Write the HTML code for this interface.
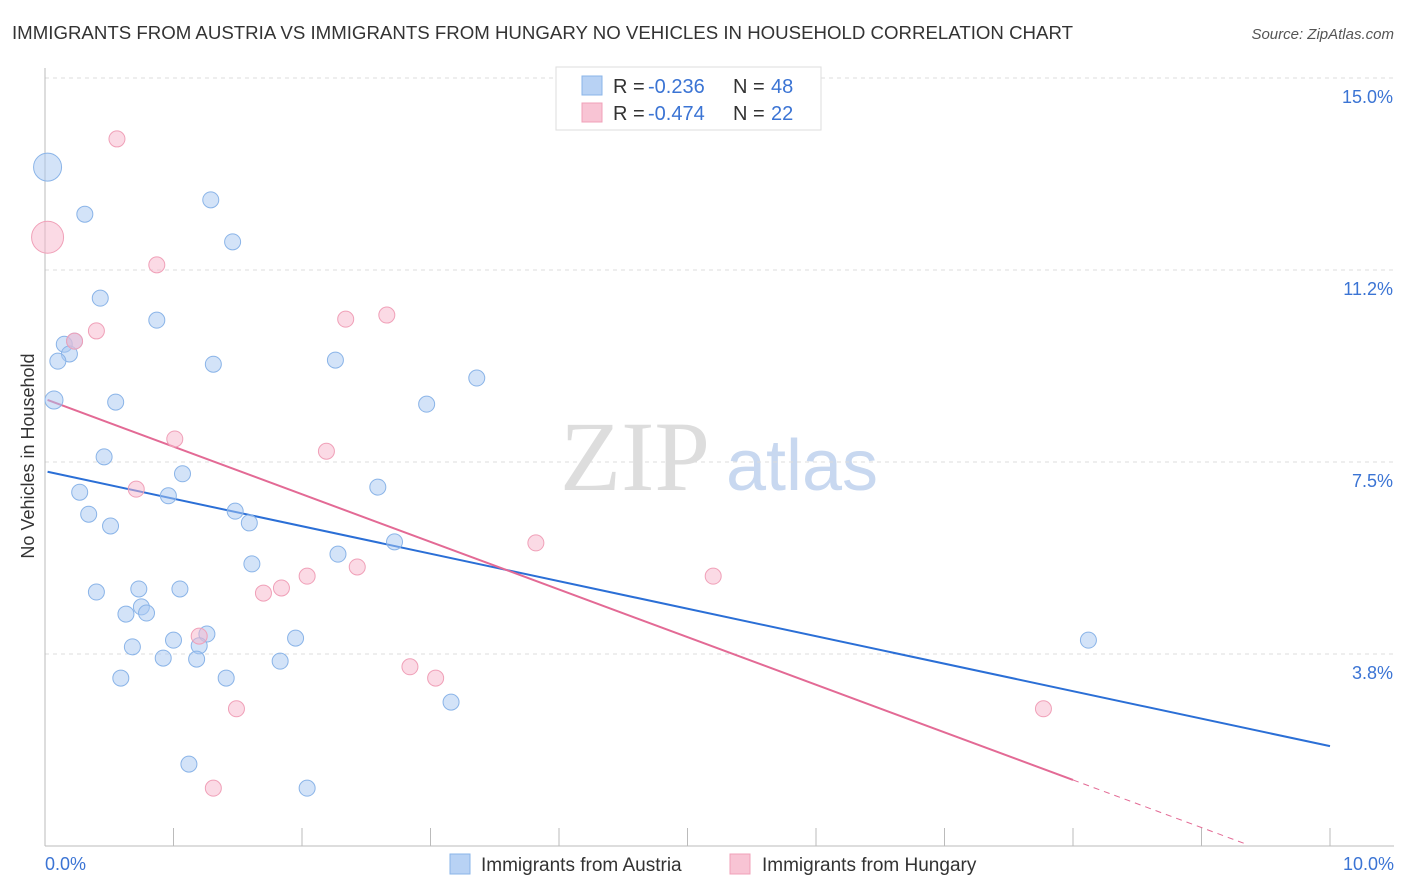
<!DOCTYPE html>
<html><head><meta charset="utf-8"><style>
body{margin:0;background:#fff;font-family:"Liberation Sans",sans-serif;}
svg{display:block}
</style></head><body>
<svg id="chart" width="1406" height="892" xmlns="http://www.w3.org/2000/svg">
<text x="12" y="39" font-size="18" fill="#333" textLength="1061" lengthAdjust="spacingAndGlyphs">IMMIGRANTS FROM AUSTRIA VS IMMIGRANTS FROM HUNGARY NO VEHICLES IN HOUSEHOLD CORRELATION CHART</text>
<text x="1394" y="39" font-size="15" fill="#555" font-style="italic" text-anchor="end">Source: ZipAtlas.com</text>
<text x="34" y="456" font-size="18" fill="#333" text-anchor="middle" transform="rotate(-90 34 456)">No Vehicles in Household</text>
<g><text x="635" y="490" font-size="100" fill="#ddd" font-family="Liberation Serif,serif" text-anchor="middle">ZIP</text><text x="802" y="490" font-size="72" fill="#c8d8f0" text-anchor="middle">atlas</text></g>
<g id="grid"></g><g id="axes"></g><g id="lines"></g><g id="pts"></g>
<g>
<rect x="556" y="67" width="265" height="63" fill="#fff" stroke="#ddd"/>
<rect x="582" y="76" width="20" height="19" fill="#b8d2f4" stroke="#8ab4e8"/>
<rect x="582" y="103" width="20" height="19" fill="#f8c4d4" stroke="#f0a0b8"/>
<text x="613" y="93" font-size="20" fill="#333">R = </text><text x="648" y="93" font-size="20" fill="#3b74d4">-0.236</text>
<text x="733" y="93" font-size="20" fill="#333">N = </text><text x="771" y="93" font-size="20" fill="#3b74d4">48</text>
<text x="613" y="120" font-size="20" fill="#333">R = </text><text x="648" y="120" font-size="20" fill="#3b74d4">-0.474</text>
<text x="733" y="120" font-size="20" fill="#333">N = </text><text x="771" y="120" font-size="20" fill="#3b74d4">22</text>
</g>
<g>
<rect x="450" y="854" width="20" height="20" fill="#b8d2f4" stroke="#8ab4e8"/>
<text x="481" y="871" font-size="19" fill="#333">Immigrants from Austria</text>
<rect x="730" y="854" width="20" height="20" fill="#f8c4d4" stroke="#f0a0b8"/>
<text x="762" y="871" font-size="19" fill="#333">Immigrants from Hungary</text>
</g>
</svg>
<script>
const yTicks=[3.75,7.5,11.25,15];
const yTickLabels=["3.8%","7.5%","11.2%","15.0%"];
const austriaX=[0.02,0.31,1.29,1.46,0.43,0.87,0.15,0.19,0.10,0.23,1.31,2.26,3.36,0.07,0.55,2.97,0.46,1.07,0.27,0.96,2.59,0.34,0.51,1.48,1.59,2.72,2.28,1.61,0.40,0.73,1.05,0.75,0.63,0.79,1.26,1.00,1.95,1.20,0.68,0.92,1.18,1.83,0.59,1.41,3.16,1.12,2.04,8.12];
const austriaY=[13.26,12.34,12.62,11.80,10.70,10.27,9.80,9.61,9.47,9.86,9.41,9.49,9.14,8.71,8.67,8.63,7.60,7.27,6.91,6.84,7.01,6.48,6.25,6.54,6.31,5.94,5.70,5.51,4.96,5.02,5.02,4.67,4.53,4.55,4.14,4.02,4.06,3.91,3.89,3.67,3.65,3.61,3.28,3.28,2.81,1.60,1.13,4.02];
const austriaR=[14,8,8,8,8,8,8,8,8,8,8,8,8,9,8,8,8,8,8,8,8,8,8,8,8,8,8,8,8,8,8,8,8,8,8,8,8,8,8,8,8,8,8,8,8,8,8,8];
const hungaryX=[0.56,0.02,0.87,0.40,0.23,2.34,2.66,1.01,2.19,0.71,3.82,2.43,2.04,1.84,1.70,5.20,1.20,2.84,3.04,1.49,7.77,1.31];
const hungaryY=[13.81,11.89,11.35,10.06,9.86,10.29,10.37,7.95,7.71,6.97,5.92,5.45,5.27,5.04,4.94,5.27,4.10,3.50,3.28,2.68,2.68,1.13];
const hungaryR=[8,16,8,8,8,8,8,8,8,8,8,8,8,8,8,8,8,8,8,8,8,8];
const austriaTrend=[7.32,1.95];
const hungaryTrend=[8.73,-0.57];
const X0=45,X1=1330,Y0=846,PX=128.5,PY=51.2;
const sx=v=>X0+v*PX, sy=v=>Y0-v*PY;
const NS="http://www.w3.org/2000/svg";
function mk(tag,attrs,parent){const e=document.createElementNS(NS,tag);for(const k in attrs)e.setAttribute(k,attrs[k]);document.getElementById(parent).appendChild(e);return e;}
yTicks.forEach((t,i)=>{
 const l=mk('line',{x1:X0,x2:1394,y1:sy(t),y2:sy(t),stroke:'#ddd','stroke-dasharray':'4,4'},'grid');
 
 
 const tx=mk('text',{x:1393,y:sy(t)+25,'font-size':18,fill:'#3b74d4','text-anchor':'end'},'axes');
 tx.textContent=yTickLabels[i];
 
 
});
mk('line',{x1:X0,x2:X0,y1:68,y2:Y0,stroke:'#bbb'},'axes');
mk('line',{x1:X0,x2:1394,y1:Y0,y2:Y0,stroke:'#bbb'},'axes');
for(let i=1;i<=10;i++){const t=mk('line',{x1:sx(i),x2:sx(i),y1:Y0,y2:Y0-18,stroke:'#bbb'},'axes');}
let a=mk('text',{x:45,y:870,'font-size':18,fill:'#3b74d4'},'axes');a.textContent='0.0%';

a=mk('text',{x:1394,y:870,'font-size':18,fill:'#3b74d4','text-anchor':'end'},'axes');a.textContent='10.0%';

function pts(xs,ys,rs,fill,stroke,name){xs.forEach((x,i)=>{const c=mk('circle',{cx:sx(x),cy:sy(ys[i]),r:rs[i],fill:fill,stroke:stroke,'stroke-width':1},'pts');
 
 });}
pts(austriaX,austriaY,austriaR,'rgba(168,200,242,0.5)','#8ab4e8','austria-point');
pts(hungaryX,hungaryY,hungaryR,'rgba(248,182,204,0.5)','#f0a0b8','hungary-point');
const at=v=>austriaTrend[0]+(austriaTrend[1]-austriaTrend[0])*v/10;
const ht=v=>hungaryTrend[0]+(hungaryTrend[1]-hungaryTrend[0])*v/10;
let l=mk('line',{x1:sx(0.02),y1:sy(at(0.02)),x2:sx(10),y2:sy(at(10)),stroke:'#2b6fd6','stroke-width':2},'lines');

l=mk('line',{x1:sx(0.02),y1:sy(ht(0.02)),x2:sx(8),y2:sy(ht(8)),stroke:'#e36a95','stroke-width':2},'lines');

l=mk('line',{x1:sx(8),y1:sy(ht(8)),x2:sx(9.35),y2:sy(ht(9.35)),stroke:'#e36a95','stroke-width':1,'stroke-dasharray':'6,5'},'lines');

</script>
</body></html>
